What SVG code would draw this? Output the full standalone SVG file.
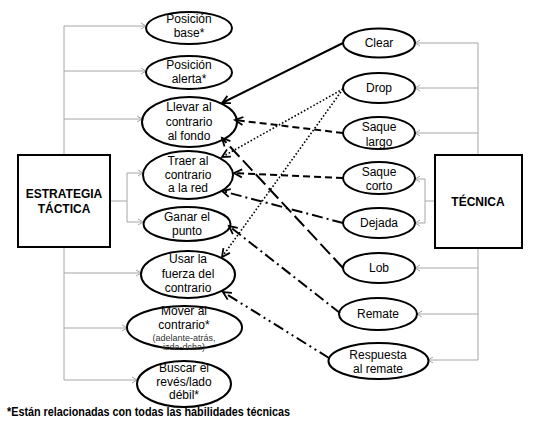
<svg xmlns="http://www.w3.org/2000/svg" width="541" height="424" viewBox="0 0 541 424">
<defs>
<style>
text{font-family:"Liberation Sans",Arial,sans-serif;font-size:12px;fill:#000;text-anchor:middle}
.b{font-weight:bold}
.s{font-size:9px;fill:#333}
ellipse{fill:#fff;stroke:#000;stroke-width:2}
.box{fill:#fff;stroke:#000;stroke-width:2}
.g{fill:none;stroke:#a6a6a6;stroke-width:1}
.c{fill:none;stroke:#000;stroke-width:2}
.dash{stroke-dasharray:7 4}
.dot{stroke-width:1.6;stroke-dasharray:1.6 2}
.long{stroke-dasharray:14 5}
.dd{stroke-dasharray:11 4 2 4}
.ddd{stroke-dasharray:11 4 2 4 2 4}
</style>
<marker id="ab" markerUnits="userSpaceOnUse" markerWidth="12" markerHeight="12" refX="9" refY="5" orient="auto" viewBox="0 0 12 10">
<path d="M1,1 L9,5 L1,9" fill="none" stroke="#000" stroke-width="1.8"/>
</marker>
<marker id="ag" markerUnits="userSpaceOnUse" markerWidth="8" markerHeight="8" refX="6" refY="4" orient="auto" viewBox="0 0 8 8">
<path d="M1,1 L6,4 L1,7" fill="none" stroke="#a6a6a6" stroke-width="1"/>
</marker>
</defs>
<rect width="541" height="424" fill="#fff"/>

<g id="gray-connectors">
<path class="g" d="M64,155 V26"/>
<path class="g" d="M64,247 V380"/>
<path class="g" d="M64,26 H146" marker-end="url(#ag)"/>
<path class="g" d="M64,71 H146" marker-end="url(#ag)"/>
<path class="g" d="M64,119 H142" marker-end="url(#ag)"/>
<path class="g" d="M64,273 H141" marker-end="url(#ag)"/>
<path class="g" d="M64,328 H127" marker-end="url(#ag)"/>
<path class="g" d="M64,380 H137" marker-end="url(#ag)"/>
<path class="g" d="M110,201 H127 M127,173 V222"/>
<path class="g" d="M127,173 H143" marker-end="url(#ag)"/>
<path class="g" d="M127,222 H143" marker-end="url(#ag)"/>
<path class="g" d="M478,155 V43"/>
<path class="g" d="M478,248 V360"/>
<path class="g" d="M478,43 H415" marker-end="url(#ag)"/>
<path class="g" d="M478,88 H415" marker-end="url(#ag)"/>
<path class="g" d="M478,133 H415" marker-end="url(#ag)"/>
<path class="g" d="M478,268 H415" marker-end="url(#ag)"/>
<path class="g" d="M478,314 H417" marker-end="url(#ag)"/>
<path class="g" d="M478,360 H428" marker-end="url(#ag)"/>
<path class="g" d="M435,201 H425 M425,179 V223"/>
<path class="g" d="M425,179 H415" marker-end="url(#ag)"/>
<path class="g" d="M425,223 H415" marker-end="url(#ag)"/>
</g>

<g id="estrategia"><rect class="box" x="18" y="155" width="92" height="92"/><text class="b" x="64" y="198">ESTRATEGIA</text><text class="b" x="64" y="213">TÁCTICA</text></g>
<g id="tecnica"><rect class="box" x="435" y="155" width="87" height="93"/><text class="b" x="478" y="206">TÉCNICA</text></g>

<g id="posicion-base"><ellipse cx="189" cy="28" rx="43" ry="16"/><text x="189" y="23">Posición</text><text x="189" y="37">base*</text></g>
<g id="posicion-alerta"><ellipse cx="189" cy="72.5" rx="43" ry="16.5"/><text x="189" y="69">Posición</text><text x="189" y="83">alerta*</text></g>
<g id="llevar"><ellipse cx="189.5" cy="122" rx="47.5" ry="25"/><text x="189" y="111">Llevar al</text><text x="189" y="126">contrario</text><text x="189" y="140">al fondo</text></g>
<g id="traer"><ellipse cx="188" cy="175" rx="45" ry="24"/><text x="188" y="165">Traer al</text><text x="188" y="179">contrario</text><text x="188" y="192">a la red</text></g>
<g id="ganar"><ellipse cx="187" cy="224" rx="43.5" ry="17"/><text x="187" y="221">Ganar el</text><text x="187" y="235">punto</text></g>
<g id="usar"><ellipse cx="188" cy="274.5" rx="47" ry="23.5"/><text x="188" y="263">Usar la</text><text x="188" y="278">fuerza del</text><text x="188" y="292">contrario</text></g>
<g id="mover"><ellipse cx="184.5" cy="327.5" rx="57.5" ry="21.5"/><text x="184" y="315">Mover al</text><text x="184" y="329">contrario*</text><text class="s" x="184" y="341">(adelante-atrás,</text><text class="s" x="184" y="350">izda-dcha)</text></g>
<g id="buscar"><ellipse cx="184" cy="384" rx="47" ry="23"/><text x="184" y="372">Buscar el</text><text x="184" y="386">revés/lado</text><text x="184" y="399">débil*</text></g>

<g id="clear"><ellipse cx="379" cy="43" rx="36" ry="14.5"/><text x="379" y="47">Clear</text></g>
<g id="drop"><ellipse cx="379" cy="88" rx="36" ry="15"/><text x="379" y="92">Drop</text></g>
<g id="saque-largo"><ellipse cx="379" cy="133" rx="36" ry="16"/><text x="379" y="131">Saque</text><text x="379" y="146">largo</text></g>
<g id="saque-corto"><ellipse cx="379" cy="178" rx="36" ry="16"/><text x="379" y="176">Saque</text><text x="379" y="190">corto</text></g>
<g id="dejada"><ellipse cx="379" cy="223" rx="36" ry="15"/><text x="379" y="227">Dejada</text></g>
<g id="lob"><ellipse cx="379" cy="268" rx="36" ry="15"/><text x="379" y="272">Lob</text></g>
<g id="remate"><ellipse cx="378" cy="314" rx="39" ry="16"/><text x="378" y="318">Remate</text></g>
<g id="respuesta"><ellipse cx="378.5" cy="361" rx="50" ry="18"/><text x="378" y="359">Respuesta</text><text x="378" y="373">al remate</text></g>

<g id="connectors">
<path class="c" d="M343,43 L222,103" marker-end="url(#ab)"/>
<path class="c dash" d="M343,133 L235,120" marker-end="url(#ab)"/>
<path class="c dot" d="M343,89 L222,157" marker-end="url(#ab)"/>
<path class="c dot" d="M343,89 L222,257" marker-end="url(#ab)"/>
<path class="c dash" d="M343,178 L234,173" marker-end="url(#ab)"/>
<path class="c long" d="M343,268 L222,138" marker-end="url(#ab)"/>
<path class="c dd" d="M343,223 L222,191" marker-end="url(#ab)"/>
<path class="c dd" d="M340,313 L229,226" marker-end="url(#ab)"/>
<path class="c ddd" d="M329,358 L223,292" marker-end="url(#ab)"/>
</g>

<text class="b" x="7" y="416" style="text-anchor:start" textLength="283" lengthAdjust="spacingAndGlyphs">*Están relacionadas con todas las habilidades técnicas</text>
</svg>
